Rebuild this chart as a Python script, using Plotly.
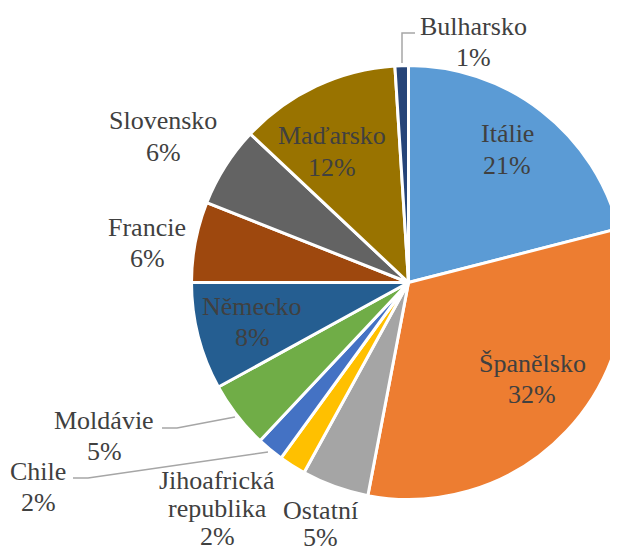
import plotly.graph_objects as go

# ---- data ----
countries = ["Itálie", "Španělsko", "Ostatní", "Jihoafrická<br>republika", "Chile",
             "Moldávie", "Německo", "Francie", "Slovensko", "Maďarsko", "Bulharsko"]
shares = [21, 32, 5, 2, 2, 5, 8, 6, 6, 12, 1]
colors = ["#5B9BD5", "#ED7D31", "#A5A5A5", "#FFC000", "#4472C4",
          "#70AD47", "#255E91", "#9E480E", "#636363", "#997300", "#264478"]

# ---- layout (pixels in the 618x554 view) ----
W, H = 632, 560
OFF = 8  # page body margin
CX, CY, R = 408.5, 282.5, 217
FONT = "Liberation Serif, Times New Roman, serif"
FS = 26
# first-line centre and line step for each slice label (px)
label_pos = [(507, 134, 31), (532, 363, 31), (320, 510, 27), (217, 480, 28), (38, 471, 31),
             (104, 420, 31), (252, 306, 31), (147, 228, 31), (163, 121, 31), (332, 136, 31),
             (473, 26, 31)]
leaders = {
    "Bulharsko": [(402, 63), (402, 33), (415, 33)],
    "Moldávie": [(162, 428), (177, 428), (235, 417)],
    "Chile": [(73, 478), (88, 478), (268, 452)],
}


def px(x):
    return (x - OFF) / W


def py(y):
    return 1 - (y - OFF) / H


fig = go.Figure(go.Pie(
    labels=countries,
    values=shares,
    sort=False,
    direction="clockwise",
    rotation=0,
    marker=dict(colors=colors, line=dict(color="white", width=3)),
    textinfo="none",
    hoverinfo="label+percent",
    showlegend=False,
    domain=dict(x=[px(CX - R), px(CX + R)], y=[py(CY + R), py(CY - R)]),
))

total = sum(shares)
annotations = []
for name, val, (lx, ly, step) in zip(countries, shares, label_pos):
    lines = name.split("<br>") + [f"{round(val / total * 100)}%"]
    for i, t in enumerate(lines):
        annotations.append(dict(
            x=px(lx), y=py(ly + i * step), xref="paper", yref="paper",
            text=t, showarrow=False, xanchor="center", yanchor="middle",
            font=dict(family=FONT, size=FS, color="#404040"),
        ))

shapes = []
for pts in leaders.values():
    path = "M " + " L ".join(f"{px(x)},{py(y)}" for x, y in pts)
    shapes.append(dict(type="path", path=path, xref="paper", yref="paper",
                       line=dict(color="#A6A6A6", width=1.5)))

fig.update_layout(
    width=W, height=H,
    margin=dict(l=0, r=0, t=0, b=0),
    paper_bgcolor="white",
    plot_bgcolor="white",
    font=dict(family=FONT),
    annotations=annotations,
    shapes=shapes,
)

fig.write_html("out.html")
